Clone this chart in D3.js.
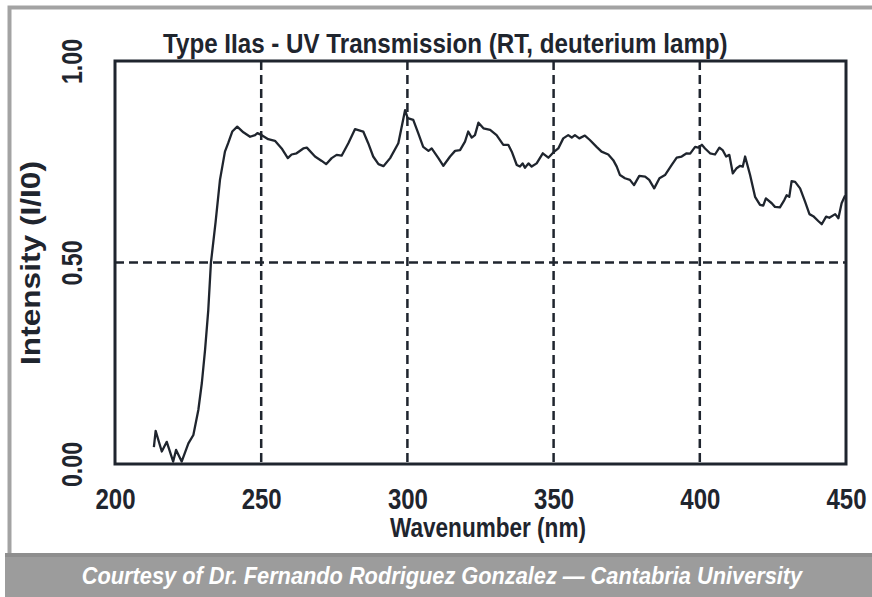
<!DOCTYPE html>
<html>
<head>
<meta charset="utf-8">
<script src="https://d3js.org/d3.v7.min.js"></script>
<style>
  html, body { margin: 0; padding: 0; background: #fff; }
  svg text { font-family: 'Liberation Sans', Arial, sans-serif; font-weight: bold; }
</style>
</head>
<body>
<svg id="chart"></svg>
<script>
var $svg = {width: 872, height: 597};
var $ink = '#1f252e';
var $narrow = 0.8; // squeeze Liberation Sans into a narrow face

// wavelength (nm) and intensity (I/I0)
var wavelength = [
  213.3, 213.9, 216.0, 217.7, 219.9, 220.9, 222.8, 225.1, 226.8, 228.5,
  229.7, 230.8, 231.9, 232.8, 234.4, 235.9, 237.6, 238.7, 240.1, 241.8,
  243.9, 246.2, 247.9, 248.7, 250.2, 252.4, 254.7, 257.0, 259.1, 260.4,
  262.1, 264.4, 265.6, 268.4, 270.7, 272.2, 274.1, 275.8, 277.5, 279.8,
  282.1, 284.9, 286.6, 288.3, 290.1, 291.8, 294.1, 296.9, 299.2, 300.1,
  302.0, 303.7, 305.4, 307.2, 308.3, 310.6, 312.3, 314.6, 316.3, 318.0,
  319.7, 320.8, 322.0, 323.1, 324.3, 326.0, 328.3, 330.5, 332.8, 334.5,
  335.7, 337.4, 338.5, 339.4, 340.2, 341.4, 342.5, 344.2, 346.3, 348.2,
  349.9, 351.6, 353.3, 355.0, 356.2, 357.3, 358.8, 360.7, 362.4, 364.7,
  366.4, 368.7, 370.4, 371.6, 372.7, 374.4, 376.1, 377.5, 379.3, 381.3,
  382.7, 384.4, 386.2, 388.1, 390.4, 392.1, 393.8, 395.5, 396.7, 398.4,
  399.5, 400.7, 401.8, 403.5, 405.2, 406.7, 407.8, 409.0, 410.1, 411.3,
  412.6, 413.8, 414.7, 415.5, 417.2, 418.9, 420.6, 421.7, 422.6, 424.6,
  425.7, 427.4, 428.9, 429.7, 430.6, 431.4, 432.6, 434.3, 436.0, 437.5,
  438.8, 440.5, 441.7, 443.2, 444.3, 446.3, 447.4, 448.5, 449.7
];
var intensity = [
  0.042, 0.082, 0.031, 0.055, 0.006, 0.035, 0.006, 0.051, 0.072, 0.134,
  0.201, 0.283, 0.382, 0.499, 0.600, 0.705, 0.775, 0.796, 0.825, 0.837,
  0.823, 0.812, 0.816, 0.821, 0.816, 0.806, 0.802, 0.783, 0.759, 0.768,
  0.771, 0.783, 0.785, 0.763, 0.752, 0.744, 0.759, 0.767, 0.765, 0.796,
  0.831, 0.825, 0.796, 0.763, 0.744, 0.739, 0.759, 0.796, 0.878, 0.858,
  0.854, 0.821, 0.787, 0.777, 0.783, 0.759, 0.740, 0.763, 0.777, 0.779,
  0.800, 0.825, 0.810, 0.816, 0.847, 0.833, 0.829, 0.816, 0.792, 0.792,
  0.775, 0.742, 0.738, 0.746, 0.735, 0.746, 0.738, 0.746, 0.771, 0.760,
  0.773, 0.783, 0.808, 0.816, 0.810, 0.816, 0.808, 0.815, 0.804, 0.787,
  0.775, 0.768, 0.754, 0.738, 0.717, 0.709, 0.705, 0.692, 0.715, 0.713,
  0.705, 0.684, 0.709, 0.717, 0.742, 0.760, 0.763, 0.771, 0.770, 0.787,
  0.785, 0.792, 0.783, 0.771, 0.768, 0.785, 0.779, 0.763, 0.767, 0.721,
  0.734, 0.740, 0.738, 0.763, 0.717, 0.663, 0.643, 0.641, 0.659, 0.647,
  0.638, 0.637, 0.655, 0.667, 0.663, 0.702, 0.700, 0.684, 0.651, 0.620,
  0.615, 0.603, 0.595, 0.614, 0.611, 0.620, 0.610, 0.647, 0.666
];

var xTicks = [200, 250, 300, 350, 400, 450];
var yTicks = [0, 0.5, 1];
var xGrid = [250, 300, 350, 400];
var yGrid = [0.5];

var plot = {left: 115, right: 846, top: 61, bottom: 464};

function init () {
    $svg.main = (
        d3.select('svg#chart')
        .attr('width', $svg.width)
        .attr('height', $svg.height)
    );

    $svg.x = d3.scaleLinear().domain([200, 450]).range([plot.left, plot.right]);
    $svg.y = d3.scaleLinear().domain([0, 1]).range([plot.bottom, plot.top]);

    drawFrame();
    drawGrid();
    drawCurve();
    drawAxes();
    drawTexts();
}

function drawFrame () {
    // outer grey border
    $svg.main.append('rect')
        .attr('x', 9.5).attr('y', 7.5)
        .attr('width', 880).attr('height', 548)
        .attr('fill', 'none')
        .attr('stroke', '#a3a3a3')
        .attr('stroke-width', 4);

    // footer band
    $svg.main.append('rect')
        .attr('x', 5).attr('y', 555)
        .attr('width', 867).attr('height', 42)
        .attr('fill', '#9c9c9c');
    $svg.main.append('rect')
        .attr('x', 5).attr('y', 553)
        .attr('width', 867).attr('height', 4)
        .attr('fill', '#8e8e8e');
}

function drawGrid () {
    var g = $svg.main.append('g')
        .attr('stroke', $ink)
        .attr('stroke-width', 2.5)
        .attr('stroke-dasharray', '9,5');
    g.selectAll('line.vx')
        .data(xGrid)
        .join('line')
        .attr('x1', d => $svg.x(d)).attr('x2', d => $svg.x(d))
        .attr('y1', plot.top).attr('y2', plot.bottom);
    g.selectAll('line.hy')
        .data(yGrid)
        .join('line')
        .attr('class', 'hy')
        .attr('x1', plot.left).attr('x2', plot.right)
        .attr('y1', d => $svg.y(d)).attr('y2', d => $svg.y(d));
}

function drawCurve () {
    var pts = wavelength.map((w, i) => [w, intensity[i]]);
    var line = d3.line()
        .x(d => $svg.x(d[0]))
        .y(d => $svg.y(d[1]));
    $svg.main.append('path')
        .datum(pts)
        .attr('d', line)
        .attr('fill', 'none')
        .attr('stroke', $ink)
        .attr('stroke-width', 2.3)
        .attr('stroke-linejoin', 'round');
}

function drawAxes () {
    // plot box
    $svg.main.append('rect')
        .attr('x', plot.left).attr('y', plot.top)
        .attr('width', plot.right - plot.left)
        .attr('height', plot.bottom - plot.top)
        .attr('fill', 'none')
        .attr('stroke', $ink)
        .attr('stroke-width', 3);

    var xAxis = $svg.main.append('g')
        .attr('transform', `translate(0,${plot.bottom})`)
        .call(d3.axisBottom($svg.x).tickValues(xTicks).tickSize(0).tickFormat(d3.format('d')));
    xAxis.select('.domain').remove();
    xAxis.selectAll('text')
        .attr('x', 0).attr('y', 0).attr('dy', 0)
        .attr('transform', `translate(0,45) scale(${$narrow},1)`)
        .attr('fill', $ink)
        .style('font-size', '30px');

    var yAxis = $svg.main.append('g')
        .attr('transform', `translate(${plot.left},0)`)
        .call(d3.axisLeft($svg.y).tickValues(yTicks).tickSize(0).tickFormat(d3.format('.2f')));
    yAxis.select('.domain').remove();
    yAxis.selectAll('text')
        .attr('x', 0).attr('y', 0).attr('dy', 0)
        .attr('transform', `translate(-33,0) rotate(-90) scale(${$narrow},1)`)
        .attr('text-anchor', 'middle')
        .attr('fill', $ink)
        .style('font-size', '29px');
}

// squeeze a label horizontally so that it spans the given width
function fitText (x, y, angle, width, size, txt, anchor) {
    var t = $svg.main.append('text')
        .attr('x', 0).attr('y', 0)
        .attr('text-anchor', anchor)
        .attr('fill', $ink)
        .style('font-size', size + 'px')
        .text(txt);
    var k = width / t.node().getComputedTextLength();
    t.attr('transform', `translate(${x},${y}) rotate(${angle}) scale(${k},1)`);
    return t;
}

function drawTexts () {
    fitText(163, 53, 0, 565, 27, 'Type IIas - UV Transmission (RT, deuterium lamp)', 'start');
    fitText(488, 537, 0, 196, 27, 'Wavenumber (nm)', 'middle');
    fitText(40, 263, -90, 204, 27, 'Intensity (I/I0)', 'middle');
    fitText(442, 584, 0, 721, 23, 'Courtesy of Dr. Fernando Rodriguez Gonzalez \u2014 Cantabria University', 'middle')
        .attr('fill', '#ffffff')
        .style('font-style', 'italic');
}

init();
</script>
</body>
</html>
